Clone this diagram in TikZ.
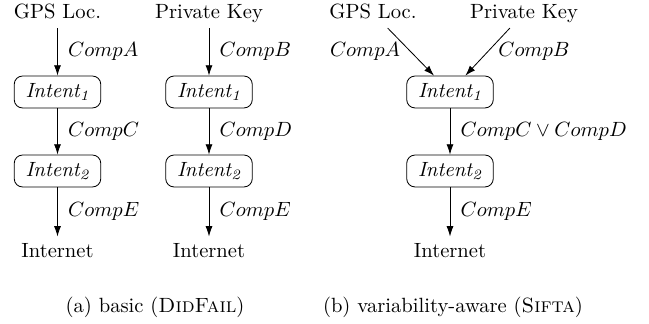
\documentclass[tikz,border=0pt]{standalone}
\usetikzlibrary{arrows.meta}
\newcommand{\intentsub}[1]{\textit{Intent\textsubscript{#1}}}
\begin{document}
\begin{tikzpicture}[x=0.4854pt,y=-0.4854pt,
  txt/.style={text height=1.5ex,text depth=.25ex,inner sep=3.33pt},
  intentbox/.style={draw,rounded corners=4pt,minimum width=42pt,minimum height=15.5pt,inner sep=2pt},
  flow/.style={-{Latex[length=5pt,width=3.4pt]}},
  lab/.style={inner xsep=5pt,inner ysep=2pt},
  caption/.style={inner sep=0pt}]
\useasboundingbox (0,0) rectangle (649,324);

% (a) basic: two separate flows
\node[txt] (gpsA) at (57.5,13) {GPS Loc.};
\node[intentbox] (iA1) at (57.5,92) {\intentsub{1}};
\node[intentbox] (iA2) at (57.5,171) {\intentsub{2}};
\node[txt] (netA) at (57.5,251.5) {Internet};
\draw[flow] (gpsA) -- node[lab,right] {$CompA$} (iA1);
\draw[flow] (iA1) -- node[lab,right] {$CompC$} (iA2);
\draw[flow] (iA2) -- node[lab,right] {$CompE$} (netA);

\node[txt] (keyB) at (209,13) {Private Key};
\node[intentbox] (iB1) at (209,92) {\intentsub{1}};
\node[intentbox] (iB2) at (209,171) {\intentsub{2}};
\node[txt] (netB) at (209,251.5) {Internet};
\draw[flow] (keyB) -- node[lab,right] {$CompB$} (iB1);
\draw[flow] (iB1) -- node[lab,right] {$CompD$} (iB2);
\draw[flow] (iB2) -- node[lab,right] {$CompE$} (netB);

\node[caption] (capA) at (155,307) {(a) basic (\textsc{DidFail})};

% (b) variability-aware: merged flow
\node[txt] (gpsV) at (373,13) {GPS Loc.};
\node[txt] (keyV) at (524,13) {Private Key};
\node[intentbox] (iV1) at (450,92) {\intentsub{1}};
\node[intentbox] (iV2) at (450,171) {\intentsub{2}};
\node[txt] (netV) at (450,251.5) {Internet};
\draw[flow] (gpsV) -- node[lab,left] {$CompA$} (iV1);
\draw[flow] (keyV) -- node[lab,right] {$CompB$} (iV1);
\draw[flow] (iV1) -- node[lab,right] {$CompC \vee CompD$} (iV2);
\draw[flow] (iV2) -- node[lab,right] {$CompE$} (netV);

\node[caption] (capV) at (453,307) {(b) variability-aware (\textsc{Sifta})};
\end{tikzpicture}
\end{document}
